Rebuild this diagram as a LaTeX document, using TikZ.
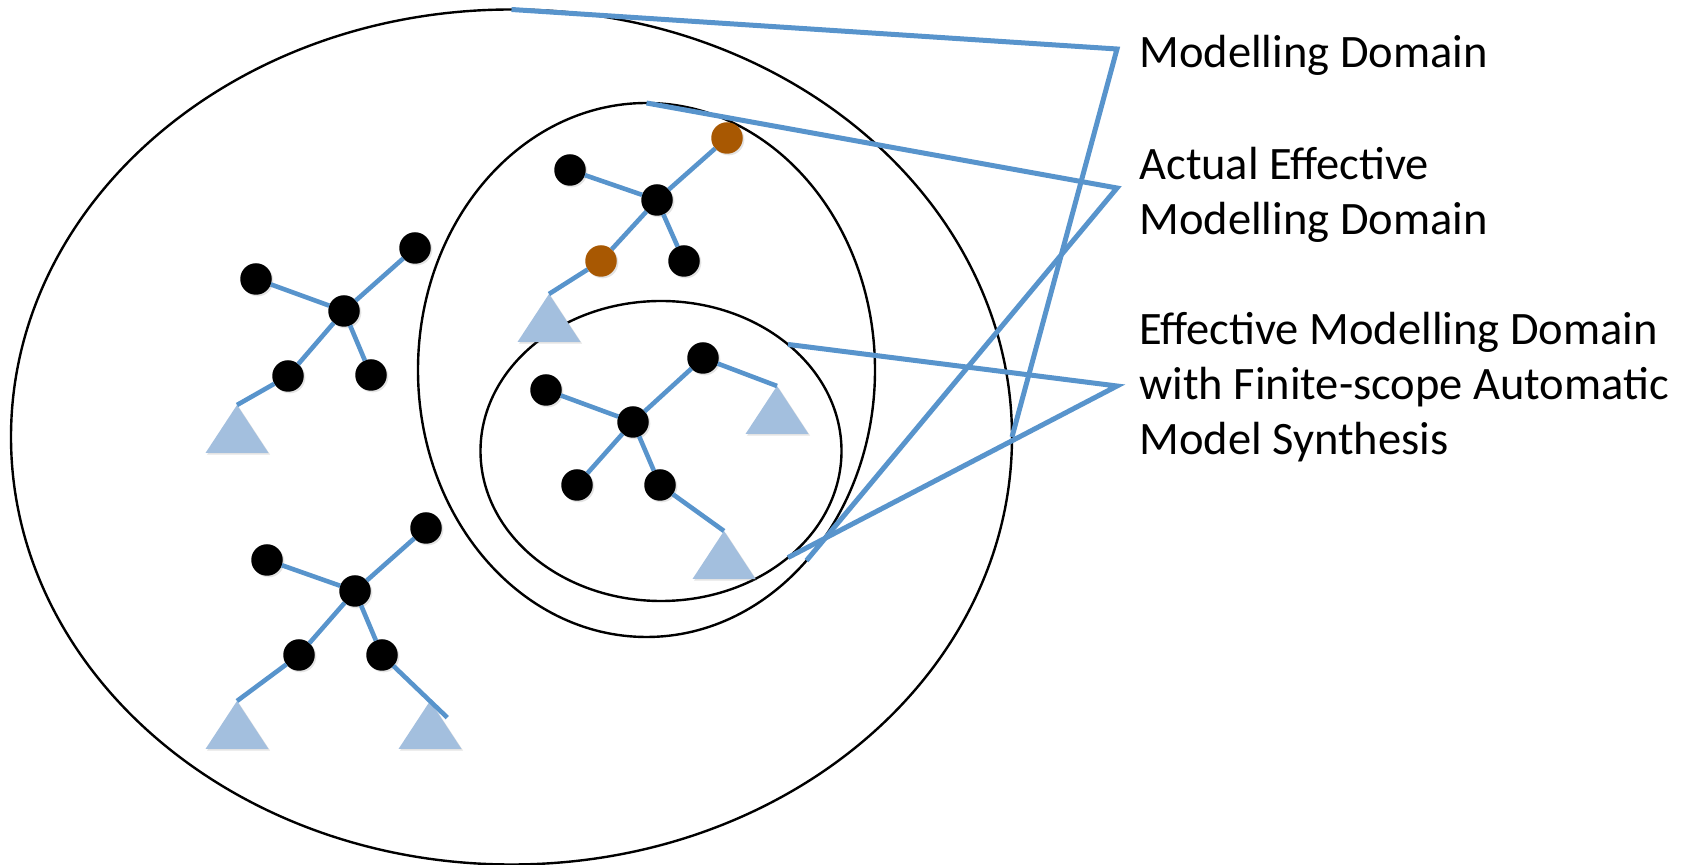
\documentclass[tikz,border=0pt]{standalone}
\usepackage{fontspec}
\setmainfont{Carlito}
\usetikzlibrary{shapes.geometric,shadows}
\definecolor{linkblue}{RGB}{88,148,204}
\definecolor{leafblue}{RGB}{163,191,222}
\definecolor{rust}{RGB}{168,88,2}
\tikzset{
  scopebound/.style={ellipse, draw=black, line width=1.2pt, inner sep=0pt, outer sep=0pt},
  vertex/.style={circle, fill=black, inner sep=0pt, outer sep=0pt, minimum size=15.75pt,
    drop shadow={shadow xshift=0.8pt, shadow yshift=-0.8pt, opacity=0.22}},
  hot/.style={vertex, fill=rust},
  leaf/.style={isosceles triangle, isosceles triangle stretches, shape border rotate=90,
    fill=leafblue, inner sep=0pt, outer sep=0pt, minimum width=31.5pt, minimum height=24pt,
    anchor=apex, drop shadow={shadow xshift=0.8pt, shadow yshift=-0.8pt, opacity=0.22}},
  link/.style={draw=linkblue, line width=2.3pt},
  callout/.style={draw=linkblue, line width=2.5pt, line join=miter},
  lbl/.style={anchor=base west, align=left, inner sep=0pt,
    font=\fontsize{23.25}{27.5}\selectfont},
}

\begin{document}
\begin{tikzpicture}[x=0.5pt, y=-0.5pt]
  \useasboundingbox (0,0) rectangle (1694,865);

  % nested domains
  \node[scopebound, minimum width=500.5pt, minimum height=427.5pt] (outer) at (511.5,437) {};
  \node[scopebound, minimum width=228.5pt, minimum height=267pt] (middle) at (646.5,370) {};
  \node[scopebound, minimum width=180.5pt, minimum height=150pt] (inner) at (661,451) {};

  % tree outside the effective domains (top)
  \node[vertex] (a0) at (344,311) {};
  \node[vertex] (a1) at (256,279) {};
  \node[vertex] (a2) at (415,248) {};
  \node[vertex] (a3) at (288,376) {};
  \node[vertex] (a4) at (371,375) {};
  \node[leaf] (ta) at (237,405) {};
  \draw[link] (a0) -- (a1) (a0) -- (a2) (a0) -- (a3) (a0) -- (a4) (a3) -- (ta.apex);

  % tree outside the effective domains (bottom)
  \node[vertex] (b0) at (355,591) {};
  \node[vertex] (b1) at (267,560) {};
  \node[vertex] (b2) at (426,528) {};
  \node[vertex] (b3) at (299,655) {};
  \node[vertex] (b4) at (382,655) {};
  \node[leaf] (tb1) at (237,701) {};
  \node[leaf] (tb2) at (430,701) {};
  \draw[link] (b0) -- (b1) (b0) -- (b2) (b0) -- (b3) (b0) -- (b4) (b3) -- (tb1.apex);
  \draw[link, shorten >=-12pt] (b4) -- (tb2.apex);

  % tree in the actual effective domain
  \node[vertex] (d0) at (657,200) {};
  \node[vertex] (d1) at (570,170) {};
  \node[hot] (d2) at (727,138) {};
  \node[hot] (d3) at (601,261) {};
  \node[vertex] (d4) at (684,261) {};
  \node[leaf] (td) at (549,294) {};
  \draw[link] (d0) -- (d1) (d0) -- (d2) (d0) -- (d3) (d0) -- (d4) (d3) -- (td.apex);

  % tree in the finite-scope domain
  \node[vertex] (c0) at (633,422) {};
  \node[vertex] (c1) at (546,390) {};
  \node[vertex] (c2) at (703,358) {};
  \node[vertex] (c3) at (577,485) {};
  \node[vertex] (c4) at (660,485) {};
  \node[leaf] (tc1) at (777,386) {};
  \node[leaf] (tc2) at (724,531) {};
  \draw[link] (c0) -- (c1) (c0) -- (c2) (c0) -- (c3) (c0) -- (c4)
    (c2) -- (tc1.apex) (c4) -- (tc2.apex);

  % labels and callouts (base = last line)
  \node[lbl] (mdlbl) at (1139,68) {Modelling Domain};
  \node[lbl] (aemdlbl) at (1139,235) {Actual Effective\\Modelling Domain};
  \node[lbl] (emdlbl) at (1139,455) {Effective Modelling Domain\\with Finite-scope Automatic\\Model Synthesis};
  \coordinate (k1) at (1117,49);
  \coordinate (k2) at (1117,188);
  \coordinate (k3) at (1117,386);
  \draw[callout] (outer.north) -- (k1) -- (outer.east);
  \draw[callout] (middle.north) -- (k2) -- (middle.-50);
  \draw[callout] (inner.40) -- (k3) -- (inner.-40);
\end{tikzpicture}
\end{document}
